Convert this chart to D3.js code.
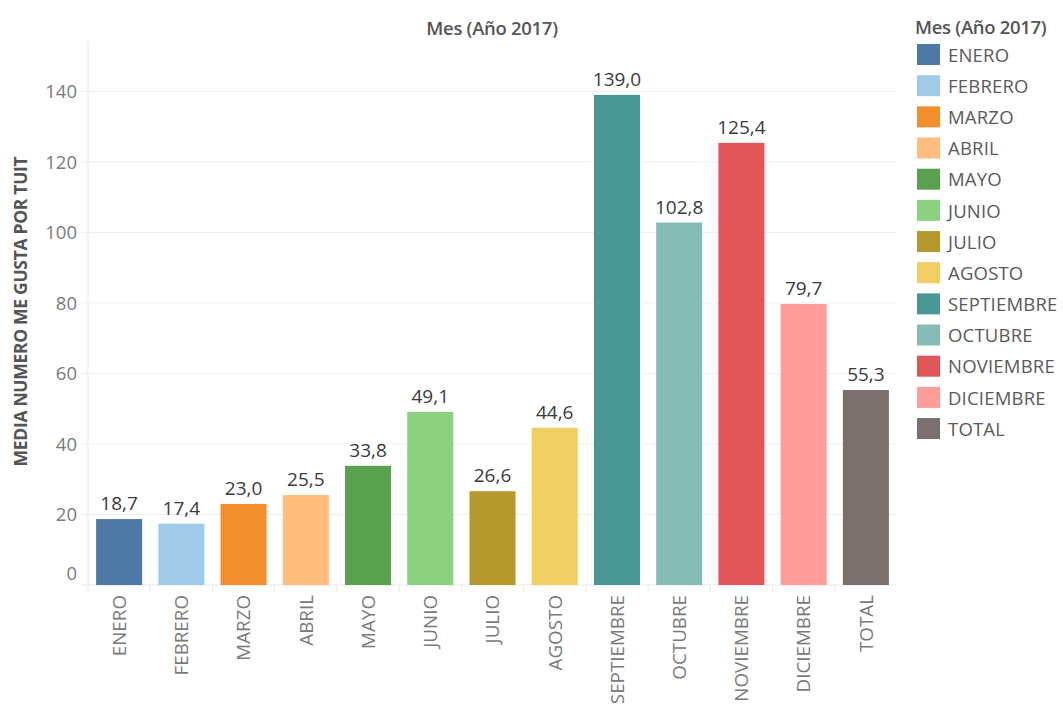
<!DOCTYPE html>
<html>
<head>
<meta charset="utf-8">
<script src="https://cdn.jsdelivr.net/npm/d3@7"></script>
<style>
  body { margin: 0; background: #fff; }
  text { font-family: "Open Sans", "Noto Sans", sans-serif; }
</style>
</head>
<body>
<div id="chart"></div>
<script>
const months = ["ENERO", "FEBRERO", "MARZO", "ABRIL", "MAYO", "JUNIO", "JULIO", "AGOSTO",
    "SEPTIEMBRE", "OCTUBRE", "NOVIEMBRE", "DICIEMBRE", "TOTAL"];
const likes = [18.7, 17.4, 23.0, 25.5, 33.8, 49.1, 26.6, 44.6, 139.0, 102.8, 125.4, 79.7, 55.3];
const colors = ["#4e79a7", "#a0cbe8", "#f28e2b", "#ffbe7d", "#59a14f", "#8cd17d", "#b6992d",
    "#f1ce63", "#499894", "#86bcb6", "#e15759", "#ff9d9a", "#79706e"];
const yTicks = [0, 20, 40, 60, 80, 100, 120, 140];

const width = 1063, height = 707;
const plot = { left: 88, right: 897, top: 42, bottom: 585 };

const svg = d3.select("#chart").append("svg")
    .attr("width", width)
    .attr("height", height);

const x = d3.scaleBand()
    .domain(months)
    .range([plot.left, plot.right])
    .paddingInner(0.26)
    .paddingOuter(0.13);

const y = d3.scaleLinear()
    .domain([0, 154])
    .range([plot.bottom, plot.top]);

const color = d3.scaleOrdinal().domain(months).range(colors);
const fmt = v => d3.format(".1f")(v).replace(".", ",");

// gridlines
svg.append("g")
    .selectAll("line")
    .data(yTicks.filter(d => d > 0))
    .join("line")
    .attr("x1", plot.left - 7)
    .attr("x2", plot.right)
    .attr("y1", d => y(d))
    .attr("y2", d => y(d))
    .attr("stroke", "#efefef");

// y axis
const yAxis = svg.append("g")
    .attr("transform", `translate(${plot.left},0)`)
    .call(d3.axisLeft(y).tickValues(yTicks).tickSize(0).tickPadding(11));
yAxis.select(".domain").remove();
yAxis.selectAll("text")
    .attr("fill", "#7a7a7a")
    .style("font-size", "18.5px")
    .attr("dy", d => d === 0 ? "-0.32em" : "0.34em");

svg.append("line")
    .attr("x1", plot.left).attr("x2", plot.left)
    .attr("y1", plot.top).attr("y2", plot.bottom + 7)
    .attr("stroke", "#e8e8e8");
svg.append("line")
    .attr("x1", plot.left - 7).attr("x2", plot.right)
    .attr("y1", plot.bottom).attr("y2", plot.bottom)
    .attr("stroke", "#e8e8e8");

// separators between categories
svg.append("g")
    .selectAll("line")
    .data(months.slice(1))
    .join("line")
    .attr("x1", d => x(d) - x.step() * x.paddingInner() / 2)
    .attr("x2", d => x(d) - x.step() * x.paddingInner() / 2)
    .attr("y1", plot.bottom)
    .attr("y2", plot.bottom + 7)
    .attr("stroke", "#e8e8e8");

// x axis labels
const xAxis = svg.append("g")
    .attr("transform", `translate(0,${plot.bottom})`)
    .call(d3.axisBottom(x).tickSize(0).tickPadding(0));
xAxis.select(".domain").remove();
xAxis.selectAll("text")
    .attr("transform", "rotate(-90)")
    .attr("x", -10)
    .attr("y", 0)
    .attr("dy", "0.36em")
    .attr("text-anchor", "end")
    .attr("fill", "#7a7a7a")
    .style("font-size", "18.8px");

// bars
svg.append("g")
    .selectAll("rect")
    .data(months)
    .join("rect")
    .attr("x", d => x(d))
    .attr("width", x.bandwidth())
    .attr("y", (d, i) => y(likes[i]))
    .attr("height", (d, i) => y(0) - y(likes[i]))
    .attr("fill", d => color(d));

// value labels
svg.append("g")
    .selectAll("text")
    .data(months)
    .join("text")
    .attr("x", d => x(d) + x.bandwidth() / 2)
    .attr("y", (d, i) => y(likes[i]) - 9)
    .attr("text-anchor", "middle")
    .attr("fill", "#3a3a3a")
    .style("font-size", "19px")
    .text((d, i) => fmt(likes[i]));

// chart title
svg.append("text")
    .attr("x", 492)
    .attr("y", 35)
    .attr("text-anchor", "middle")
    .attr("fill", "#555")
    .style("font-size", "18.5px")
    .style("font-weight", "600")
    .style("letter-spacing", "-0.3px")
    .text("Mes (Año 2017)");

// y title
svg.append("text")
    .attr("transform", `translate(27,${(150 + 473) / 2}) rotate(-90)`)
    .attr("text-anchor", "middle")
    .attr("fill", "#555")
    .style("font-size", "17.5px")
    .style("font-weight", "bold")
    .style("letter-spacing", "-0.3px")
    .text("MEDIA NUMERO ME GUSTA POR TUIT");

// legend
const legend = svg.append("g").attr("transform", "translate(917,0)");
legend.append("text")
    .attr("x", -2)
    .attr("y", 34)
    .attr("fill", "#555")
    .style("font-size", "18.5px")
    .style("font-weight", "600")
    .style("letter-spacing", "-0.3px")
    .text("Mes (Año 2017)");

const rows = legend.selectAll("g.row")
    .data(months)
    .join("g")
    .attr("class", "row")
    .attr("transform", (d, i) => `translate(0,${44 + i * 31.17})`);
rows.append("rect")
    .attr("width", 23)
    .attr("height", 21)
    .attr("fill", d => color(d));
rows.append("text")
    .attr("x", 31)
    .attr("y", 11)
    .attr("dy", "0.36em")
    .attr("fill", "#5a5a5a")
    .style("font-size", "18.5px")
    .style("letter-spacing", "0.2px")
    .text(d => d);
</script>
</body>
</html>
